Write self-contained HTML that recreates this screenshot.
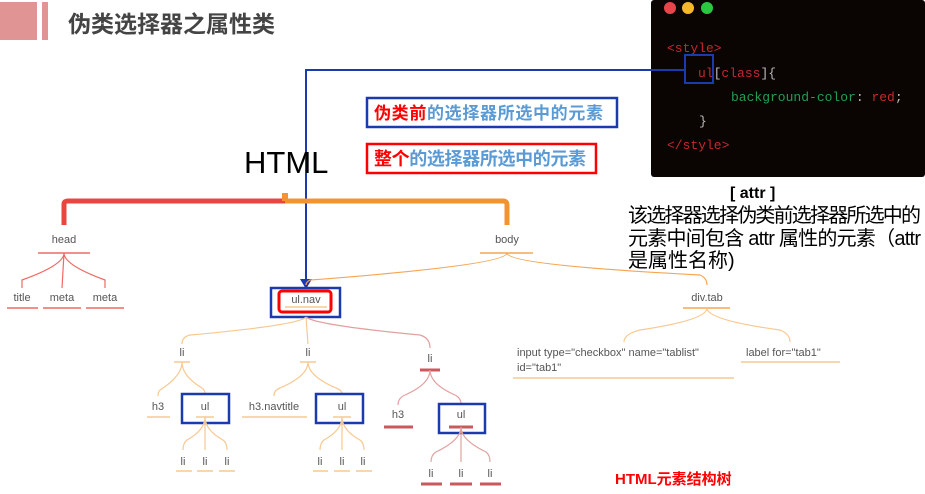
<!DOCTYPE html>
<html><head><meta charset="utf-8"><style>
html,body{margin:0;padding:0;background:#fff;}
svg{display:block;}
.t{font-family:"Liberation Sans","Noto Sans CJK SC",sans-serif;}
.n{font-family:"Liberation Sans","Noto Sans CJK SC",sans-serif;font-size:11px;fill:#555;}
.m{font-family:"Liberation Mono",monospace;font-size:13px;}
</style></head><body>
<svg width="925" height="494" viewBox="0 0 925 494" xmlns="http://www.w3.org/2000/svg">
<rect x="0" y="2" width="37" height="38" fill="#e09494"/>
<rect x="42" y="2" width="6" height="38" fill="#e09494"/>
<text class="t" x="68" y="32" font-size="23" font-weight="bold" fill="#444">伪类选择器之属性类</text>

<!-- code panel -->
<rect x="651" y="0" width="274" height="177" rx="3" fill="#0a0402"/>
<circle cx="670" cy="8" r="6" fill="#e8444a"/>
<circle cx="688" cy="8" r="6" fill="#f5b82a"/>
<circle cx="707" cy="8" r="6" fill="#28c840"/>
<text class="m" x="667" y="52" fill="#c8282a">&lt;style&gt;</text>
<text class="m" x="698" y="77" fill="#c8282a">ul<tspan fill="#bbb">[</tspan>class<tspan fill="#bbb">]{</tspan></text>
<text class="m" x="731" y="101" fill="#1fa050">background-color<tspan fill="#bbb">: </tspan><tspan fill="#c8282a">red</tspan><tspan fill="#bbb">;</tspan></text>
<text class="m" x="699" y="125" fill="#bbb">}</text>
<text class="m" x="667" y="149" fill="#c8282a">&lt;/style&gt;</text>
<rect x="685" y="55" width="28" height="28" fill="none" stroke="#1a3aae" stroke-width="2"/>

<!-- blue connector -->
<polyline points="685,70 306,70 306,280" fill="none" stroke="#1a3aae" stroke-width="2"/>
<polygon points="300,279 312,279 306,289" fill="#1a3aae"/>

<rect x="367" y="98" width="250" height="29" fill="none" stroke="#1a3aae" stroke-width="2.5"/>
<text class="t" x="374" y="119" font-size="17" font-weight="bold" fill="#5b9bd5" textLength="229"><tspan fill="#f00">伪类前</tspan>的选择器所选中的元素</text>
<rect x="367" y="144" width="229" height="29" fill="none" stroke="#f00" stroke-width="2.5"/>
<text class="t" x="374" y="165" font-size="18" font-weight="bold" fill="#5b9bd5" textLength="212"><tspan fill="#f00">整个</tspan>的选择器所选中的元素</text>
<text class="t" x="244" y="173" font-size="31" fill="#000">HTML</text>

<text class="t" x="730" y="198" font-size="16" font-weight="bold" fill="#000">[ attr ]</text>
<text class="t" x="628" y="222" font-size="20" fill="#000" textLength="293">该选择器选择伪类前选择器所选中的</text>
<text class="t" x="628" y="245" font-size="20" fill="#000" textLength="293">元素中间包含  attr  属性的元素（attr</text>
<text class="t" x="628" y="267" font-size="20" fill="#000">是属性名称)</text>

<!-- top bracket -->
<path d="M64,225 V204 Q64,201 68,201 H285" fill="none" stroke="#e8473f" stroke-width="5"/>
<path d="M285,201 H503 Q507,201 507,205 V225" fill="none" stroke="#f1952f" stroke-width="5"/>
<rect x="282" y="193" width="6" height="8" fill="#f1952f"/>

<!-- head -->
<text class="n" x="64" y="243" text-anchor="middle">head</text>
<line x1="38" y1="253" x2="90" y2="253" stroke="#ee6a62" stroke-width="1.5"/>
<path d="M64,253 Q64,265 22,280 V288 M64,253 L62,288 M64,253 Q64,265 105,280 V288" fill="none" stroke="#ee6a62" stroke-width="1.2"/>
<text class="n" x="22" y="301" text-anchor="middle">title</text>
<text class="n" x="62" y="301" text-anchor="middle">meta</text>
<text class="n" x="105" y="301" text-anchor="middle">meta</text>
<g stroke="#ee6a62" stroke-width="1.5"><line x1="7" y1="308" x2="38" y2="308"/><line x1="43" y1="308" x2="81" y2="308"/><line x1="86" y1="308" x2="124" y2="308"/></g>

<!-- body -->
<text class="n" x="507" y="243" text-anchor="middle">body</text>
<line x1="480" y1="253" x2="533" y2="253" stroke="#f5a654" stroke-width="1.5"/>
<path d="M507,253 Q507,265 310,280 Q306,282 306,285 M507,253 Q507,265 700,275 Q707,278 707,285" fill="none" stroke="#f5a654" stroke-width="1.2"/>

<!-- ul.nav -->
<rect x="271" y="288" width="69" height="29" fill="none" stroke="#1a3aae" stroke-width="2.5"/>
<rect x="279" y="291" width="52" height="21" rx="3" fill="none" stroke="#f00" stroke-width="3"/>
<text class="n" x="306" y="303" text-anchor="middle">ul.nav</text>
<line x1="285" y1="307" x2="327" y2="307" stroke="#f8c890" stroke-width="1.5"/>
<path d="M306,317 Q300,325 190,335 Q182,337 182,344 M306,317 L308,344" fill="none" stroke="#f8c890" stroke-width="1.2"/>
<path d="M306,317 Q315,325 420,335 Q430,338 430,348" fill="none" stroke="#e2a0a0" stroke-width="1.2"/>

<!-- li 1 -->
<text class="n" x="182" y="356" text-anchor="middle">li</text>
<line x1="174" y1="362" x2="190" y2="362" stroke="#f8c890" stroke-width="1.5"/>
<path d="M182,362 Q182,376 160,390 Q158,392 158,396 M182,362 Q182,376 202,388 Q205,390 205,394" fill="none" stroke="#f8c890" stroke-width="1.2"/>
<text class="n" x="158" y="410" text-anchor="middle">h3</text>
<line x1="147" y1="417" x2="170" y2="417" stroke="#f8c890" stroke-width="1.5"/>
<rect x="182" y="394" width="47" height="29" fill="none" stroke="#1a3aae" stroke-width="2.5"/>
<text class="n" x="205" y="410" text-anchor="middle">ul</text>
<line x1="196" y1="417" x2="214" y2="417" stroke="#f8c890" stroke-width="1.5"/>
<path d="M205,417 Q205,430 187,440 Q183,443 183,450 M205,417 V450 M205,417 Q205,430 223,440 Q227,443 227,450" fill="none" stroke="#f8c890" stroke-width="1.2"/>
<g class="n" text-anchor="middle"><text x="183" y="465">li</text><text x="205" y="465">li</text><text x="227" y="465">li</text></g>
<g stroke="#f8c890" stroke-width="1.5"><line x1="176" y1="471" x2="192" y2="471"/><line x1="197" y1="471" x2="213" y2="471"/><line x1="219" y1="471" x2="235" y2="471"/></g>

<!-- li 2 -->
<text class="n" x="308" y="356" text-anchor="middle">li</text>
<line x1="300" y1="362" x2="316" y2="362" stroke="#f8c890" stroke-width="1.5"/>
<path d="M308,362 Q308,376 280,388 Q274,390 274,396 M308,362 Q308,376 336,388 Q342,390 342,394" fill="none" stroke="#f8c890" stroke-width="1.2"/>
<text class="n" x="274" y="410" text-anchor="middle">h3.navtitle</text>
<line x1="242" y1="417" x2="307" y2="417" stroke="#f8c890" stroke-width="1.5"/>
<rect x="316" y="394" width="47" height="29" fill="none" stroke="#1a3aae" stroke-width="2.5"/>
<text class="n" x="342" y="410" text-anchor="middle">ul</text>
<line x1="333" y1="417" x2="351" y2="417" stroke="#f8c890" stroke-width="1.5"/>
<path d="M342,417 Q342,430 324,440 Q320,443 320,450 M342,417 V450 M342,417 Q342,430 360,440 Q364,443 364,450" fill="none" stroke="#f8c890" stroke-width="1.2"/>
<g class="n" text-anchor="middle"><text x="320" y="465">li</text><text x="342" y="465">li</text><text x="363" y="465">li</text></g>
<g stroke="#f8c890" stroke-width="1.5"><line x1="313" y1="471" x2="328" y2="471"/><line x1="334" y1="471" x2="350" y2="471"/><line x1="356" y1="471" x2="372" y2="471"/></g>

<!-- li 3 -->
<text class="n" x="430" y="362" text-anchor="middle">li</text>
<line x1="420" y1="370" x2="440" y2="370" stroke="#c95a5c" stroke-width="3"/>
<path d="M430,370 Q430,384 405,395 Q398,398 398,405 M430,370 Q430,384 455,395 Q461,398 461,404" fill="none" stroke="#e2a0a0" stroke-width="1.2"/>
<text class="n" x="398" y="418" text-anchor="middle">h3</text>
<line x1="384" y1="427" x2="413" y2="427" stroke="#c95a5c" stroke-width="3"/>
<rect x="439" y="404" width="46" height="29" fill="none" stroke="#1a3aae" stroke-width="2.5"/>
<text class="n" x="461" y="418" text-anchor="middle">ul</text>
<line x1="449" y1="427" x2="473" y2="427" stroke="#c95a5c" stroke-width="3"/>
<path d="M461,427 Q461,440 436,452 Q431,455 431,462 M461,427 V462 M461,427 Q461,440 486,452 Q490,455 490,462" fill="none" stroke="#e2a0a0" stroke-width="1.2"/>
<g class="n" text-anchor="middle"><text x="431" y="477">li</text><text x="461" y="477">li</text><text x="490" y="477">li</text></g>
<g stroke="#c95a5c" stroke-width="3"><line x1="421" y1="484" x2="442" y2="484"/><line x1="450" y1="484" x2="472" y2="484"/><line x1="480" y1="484" x2="501" y2="484"/></g>

<!-- div.tab -->
<text class="n" x="707" y="301" text-anchor="middle">div.tab</text>
<line x1="683" y1="308" x2="730" y2="308" stroke="#f5a654" stroke-width="1.5"/>
<path d="M707,308 Q707,320 640,330 Q624,334 624,342 M707,308 Q707,320 780,330 Q790,334 790,342" fill="none" stroke="#f8c890" stroke-width="1.2"/>
<text class="n" x="517" y="356">input  type="checkbox" name="tablist"</text>
<text class="n" x="517" y="371">id="tab1"</text>
<line x1="513" y1="378" x2="734" y2="378" stroke="#f8c890" stroke-width="1.5"/>
<text class="n" x="746" y="356">label  for="tab1"</text>
<line x1="741" y1="362" x2="840" y2="362" stroke="#f8c890" stroke-width="1.5"/>

<text class="t" x="615" y="484" font-size="15" font-weight="bold" fill="#f00">HTML元素结构树</text>
</svg>
</body></html>
